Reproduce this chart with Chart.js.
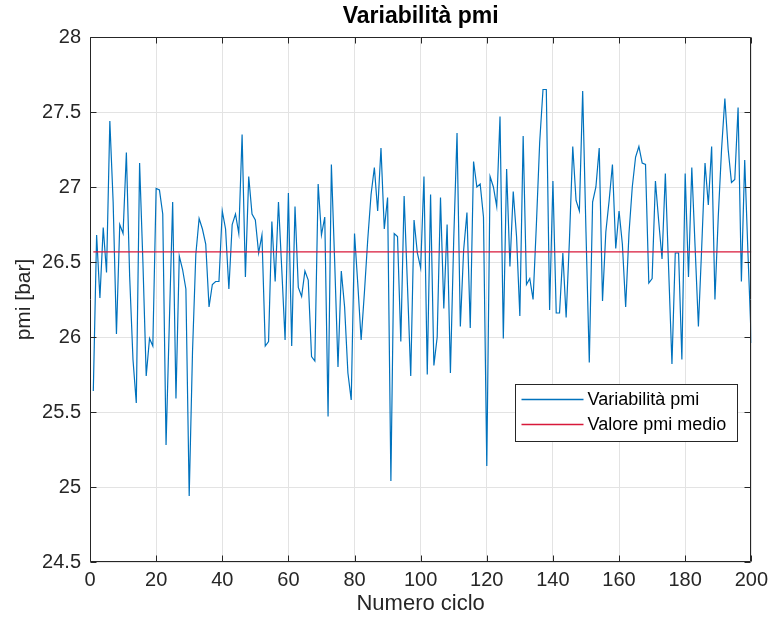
<!DOCTYPE html>
<html>
<head>
<meta charset="utf-8">
<script src="https://cdn.jsdelivr.net/npm/chart.js@4/dist/chart.umd.min.js"></script>
<style>
  html, body { margin: 0; padding: 0; background: #fff; }
</style>
</head>
<body>
<canvas id="chart" width="774" height="625"></canvas>
<script>
// pmi per ciclo (cicli 1..200)
const pmi = [
  25.64, 26.68, 26.26, 26.73, 26.43, 27.44, 26.90, 26.02, 26.75, 26.69,
  27.23, 26.40, 25.85, 25.56, 27.16, 26.50, 25.74, 25.99, 25.94, 26.99,
  26.98, 26.82, 25.28, 26.10, 26.90, 25.59, 26.54, 26.45, 26.32, 24.94,
  25.90, 26.55, 26.79, 26.72, 26.62, 26.20, 26.35, 26.37, 26.37, 26.84,
  26.72, 26.32, 26.75, 26.82, 26.69, 27.35, 26.40, 27.07, 26.82, 26.78,
  26.56, 26.68, 25.94, 25.97, 26.77, 26.37, 26.90, 26.45, 25.98, 26.96,
  25.94, 26.87, 26.33, 26.27, 26.44, 26.38, 25.87, 25.84, 27.02, 26.68,
  26.80, 25.47, 27.15, 26.50, 25.80, 26.44, 26.20, 25.76, 25.58, 26.69,
  26.35, 25.98, 26.30, 26.65, 26.95, 27.13, 26.84, 27.26, 26.72, 26.93,
  25.04, 26.69, 26.67, 25.97, 26.94, 26.35, 25.74, 26.78, 26.56, 26.46,
  27.07, 25.75, 26.95, 25.81, 26.00, 26.93, 26.19, 26.75, 25.76, 26.65,
  27.36, 26.07, 26.58, 26.83, 26.06, 27.17, 27.00, 27.02, 26.80, 25.14,
  27.07, 27.00, 26.87, 27.47, 25.99, 27.12, 26.47, 26.97, 26.67, 26.14,
  27.34, 26.35, 26.39, 26.25, 26.75, 27.30, 27.65, 27.65, 26.18, 27.04,
  26.16, 26.16, 26.56, 26.13, 26.65, 27.27, 26.91, 26.84, 27.64, 26.70,
  25.83, 26.90, 27.00, 27.26, 26.24, 26.70, 26.91, 27.15, 26.59, 26.84,
  26.62, 26.20, 26.69, 27.00, 27.20, 27.27, 27.16, 27.15, 26.36, 26.39,
  27.04, 26.77, 26.52, 27.09, 26.45, 25.82, 26.56, 26.56, 25.85, 27.09,
  26.40, 27.13, 26.60, 26.07, 26.60, 27.16, 26.88, 27.27, 26.25, 26.80,
  27.25, 27.59, 27.25, 27.03, 27.05, 27.53, 26.37, 27.18, 26.55, 25.96
];
const pmiMedio = 26.567;

const xRange = [0, 200];
const xStep = 20;
const yRange = [24.5, 28];
const yStep = 0.5;

const labelSerie = 'Variabilità pmi';
const labelMedio = 'Valore pmi medio';
const titolo = 'Variabilità pmi';
const titoloX = 'Numero ciclo';
const titoloY = 'pmi [bar]';

const FONT = '"Liberation Sans", Arial, Helvetica, sans-serif';
const AXIS_COLOR = '#262626';
const BLUE = '#0072BD';
const RED = '#d8193a';

// box, tacche interne, titolo e legenda in stile MATLAB
const matlabAxes = {
  id: 'matlabAxes',
  afterDatasetsDraw(chart) {
    const {ctx, chartArea: a, scales: {x, y}} = chart;
    const L = Math.round(a.left) + 0.5, R = Math.round(a.right) - 0.5;
    const T = Math.round(a.top) + 0.5, B = Math.round(a.bottom) - 0.5;
    const len = 6;
    ctx.save();
    ctx.strokeStyle = AXIS_COLOR;
    ctx.lineWidth = 1;
    ctx.beginPath();
    ctx.rect(L, T, R - L, B - T);
    x.ticks.forEach(t => {
      const px = Math.round(x.getPixelForValue(t.value)) + 0.5;
      ctx.moveTo(px, B); ctx.lineTo(px, B - len);
      ctx.moveTo(px, T); ctx.lineTo(px, T + len);
    });
    y.ticks.forEach(t => {
      const py = Math.round(y.getPixelForValue(t.value)) + 0.5;
      ctx.moveTo(L, py); ctx.lineTo(L + len, py);
      ctx.moveTo(R, py); ctx.lineTo(R - len, py);
    });
    ctx.stroke();

    // titolo centrato sugli assi
    ctx.fillStyle = '#000';
    ctx.font = 'bold 23px ' + FONT;
    ctx.textAlign = 'center';
    ctx.textBaseline = 'middle';
    ctx.fillText(titolo, (a.left + a.right) / 2, 17);

    // legenda
    const box = {x: 515.5, y: 384.5, w: 222, h: 57};
    ctx.fillStyle = '#fff';
    ctx.fillRect(box.x, box.y, box.w, box.h);
    ctx.strokeRect(box.x, box.y, box.w, box.h);
    ctx.font = '18px ' + FONT;
    ctx.textAlign = 'left';
    chart.data.datasets.forEach((ds, i) => {
      const ly = box.y + 15 + i * 25;
      ctx.strokeStyle = ds.borderColor;
      ctx.lineWidth = 1.3;
      ctx.beginPath();
      ctx.moveTo(box.x + 6, ly);
      ctx.lineTo(box.x + 68, ly);
      ctx.stroke();
      ctx.fillStyle = '#000';
      ctx.fillText(ds.label, box.x + 72, ly + 1);
    });
    ctx.restore();
  }
};

new Chart(document.getElementById('chart').getContext('2d'), {
  type: 'line',
  data: {
    datasets: [
      {
        label: labelSerie,
        data: pmi.map((v, i) => ({x: i + 1, y: v})),
        borderColor: BLUE,
        borderWidth: 1.2,
        pointRadius: 0,
        tension: 0,
        order: 1
      },
      {
        label: labelMedio,
        data: [{x: 1, y: pmiMedio}, {x: pmi.length, y: pmiMedio}],
        borderColor: RED,
        borderWidth: 1.3,
        pointRadius: 0,
        order: 0
      }
    ]
  },
  options: {
    responsive: false,
    animation: false,
    devicePixelRatio: 1,
    layout: {padding: {left: 0, right: 19, top: 37, bottom: 0}},
    plugins: {
      legend: {display: false},
      tooltip: {enabled: false},
      title: {display: false}
    },
    scales: {
      x: {
        type: 'linear',
        min: xRange[0],
        max: xRange[1],
        ticks: {stepSize: xStep, color: AXIS_COLOR, font: {family: FONT, size: 20}, padding: 6, maxRotation: 0},
        grid: {color: '#e3e3e3', drawTicks: false},
        border: {display: false},
        title: {display: true, text: titoloX, color: AXIS_COLOR, font: {family: FONT, size: 22}, padding: {top: 0, bottom: 8}},
        afterFit: s => { s.height = 63; }
      },
      y: {
        min: yRange[0],
        max: yRange[1],
        ticks: {
          stepSize: yStep, color: AXIS_COLOR, font: {family: FONT, size: 20}, padding: 9,
          callback: v => String(+v.toFixed(1))
        },
        grid: {color: '#e3e3e3', drawTicks: false},
        border: {display: false},
        title: {display: true, text: titoloY, color: AXIS_COLOR, font: {family: FONT, size: 21}, padding: {top: 12, bottom: 0}},
        afterFit: s => { s.width = 90; }
      }
    }
  },
  plugins: [matlabAxes]
});
</script>
</body>
</html>
